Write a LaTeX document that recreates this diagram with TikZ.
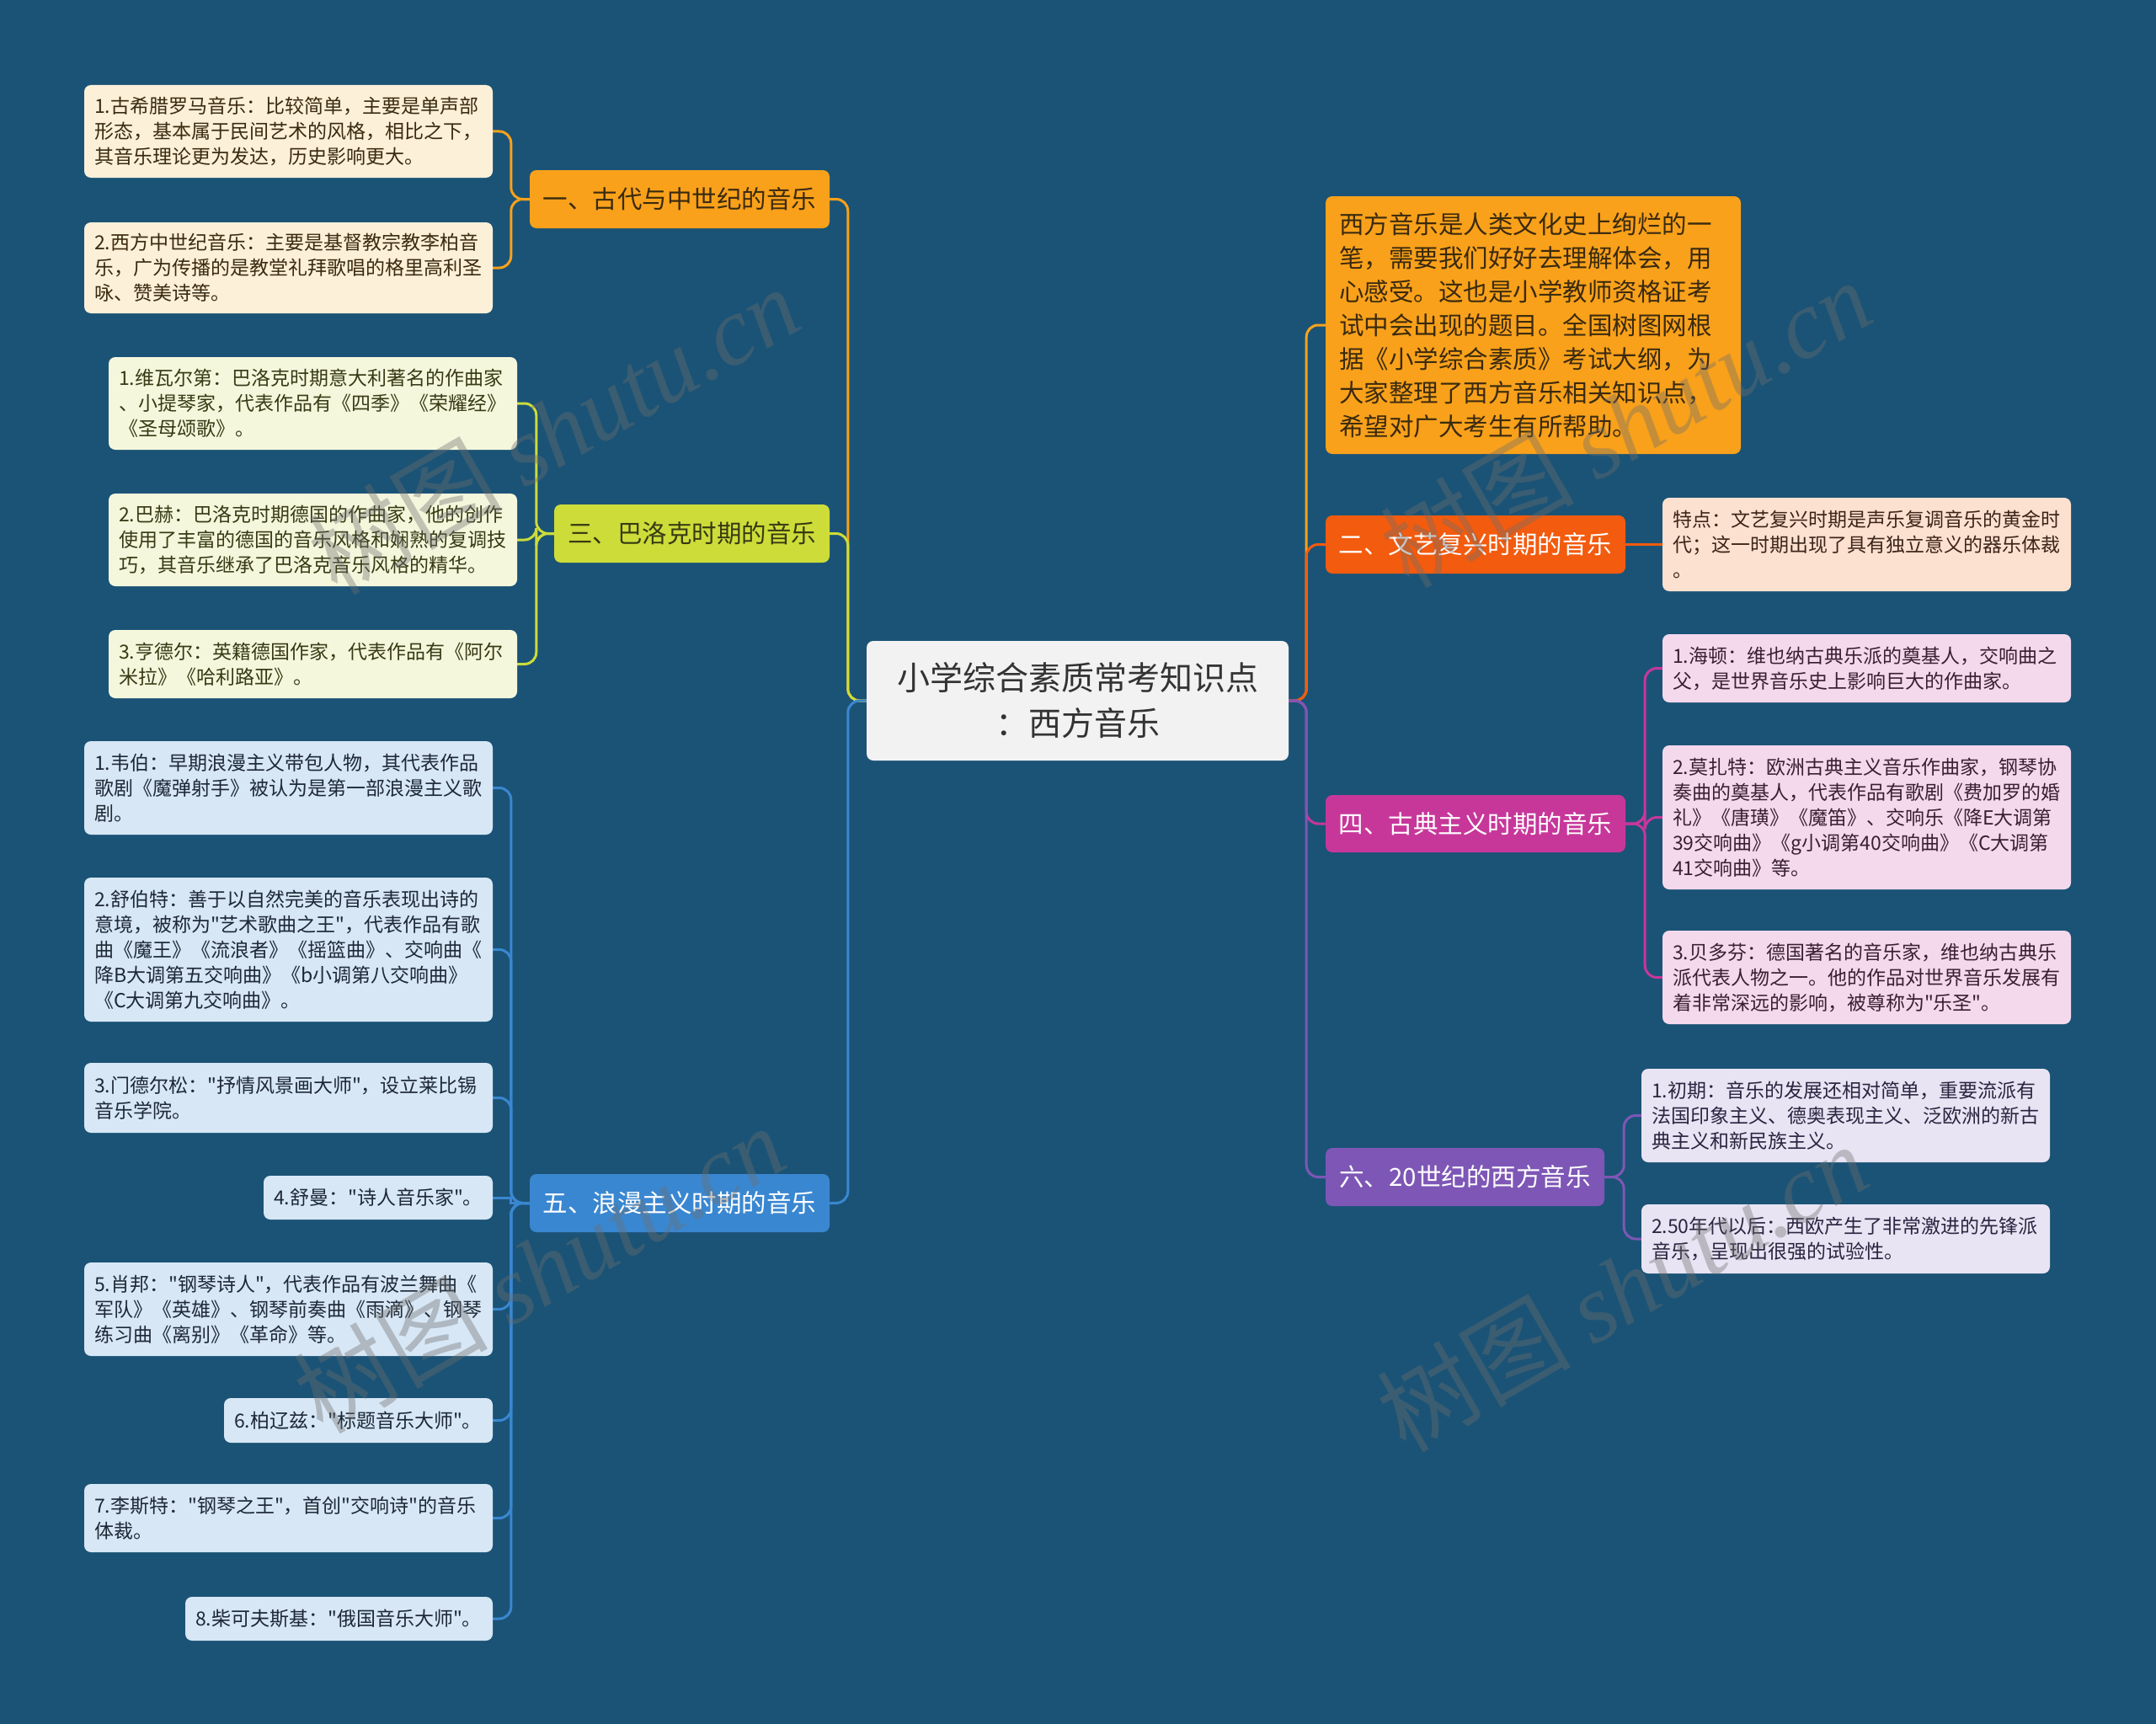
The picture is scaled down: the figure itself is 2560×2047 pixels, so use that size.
\documentclass[tikz,border=0pt]{standalone}
\usepackage{fontspec}
\usetikzlibrary{backgrounds}
\setmainfont{Noto Sans CJK SC}[Ligatures=TeXOff]
\newfontfamily\wmserif{Liberation Serif}
\definecolor{bgc}{RGB}{27,83,118}
\definecolor{cAmber}{RGB}{249,161,27}
\definecolor{cLime}{RGB}{205,220,57}
\definecolor{cBlue}{RGB}{58,135,209}
\definecolor{cRed}{RGB}{243,91,14}
\definecolor{cMag}{RGB}{199,55,154}
\definecolor{cPurp}{RGB}{126,87,182}
\definecolor{fA}{RGB}{252,240,217}
\definecolor{fL}{RGB}{245,247,221}
\definecolor{fB}{RGB}{215,231,245}
\definecolor{fR}{RGB}{253,225,208}
\definecolor{fM}{RGB}{244,217,236}
\definecolor{fP}{RGB}{233,228,243}
\definecolor{rootf}{RGB}{242,242,242}
\definecolor{tdark}{RGB}{51,51,51}
\definecolor{tA}{RGB}{58,42,15}
\definecolor{tL}{RGB}{55,58,20}
\definecolor{tB}{RGB}{30,40,54}
\definecolor{tR}{RGB}{60,36,24}
\definecolor{tM}{RGB}{58,31,51}
\definecolor{tP}{RGB}{42,36,64}
\definecolor{wmc}{RGB}{110,110,110}
\tikzset{
  box/.style={rounded corners=8pt, inner ysep=0pt, anchor=center},
  leafbox/.style={box, inner xsep=12pt, align=left, font=\fontsize{23}{30}\selectfont},
  leafwide/.style={leafbox, text width=461pt, minimum width=485pt},
  branchbox/.style={box, inner xsep=8pt, align=center, font=\fontsize{29.5}{36}\selectfont},
  conn/.style={line width=3pt, rounded corners=14pt},
  wm/.style={rotate=30, text=wmc, text opacity=0.38, font=\fontsize{115}{115}\selectfont}
}
\begin{document}
\begin{tikzpicture}[x=1pt,y=-1pt]
\useasboundingbox (0,0) rectangle (2560,2047);

% root
\node[box, fill=rootf, text=tdark, minimum width=501pt, minimum height=142pt, align=center,
      font=\fontsize{39}{54}\selectfont] (root) at (1279.5,832) {小学综合素质常考知识点\\：西方音乐};

% branches
\node[branchbox, fill=cAmber, text=tA, minimum width=356pt, minimum height=69pt] (b1) at (807,236.5) {一、古代与中世纪的音乐};
\node[branchbox, fill=cLime, text=tL, minimum width=327pt, minimum height=69pt] (b3) at (821.5,633.5) {三、巴洛克时期的音乐};
\node[branchbox, fill=cBlue, text=white, minimum width=356pt, minimum height=69pt] (b5) at (807,1428.5) {五、浪漫主义时期的音乐};
\node[box, fill=cAmber, text=tA, minimum width=493pt, minimum height=306pt, inner xsep=16pt,
      text width=461pt, align=left, font=\fontsize{29.5}{40}\selectfont] (intro) at (1820.5,386)
  {西方音乐是人类文化史上绚烂的一\\笔，需要我们好好去理解体会，用\\心感受。这也是小学教师资格证考\\试中会出现的题目。全国树图网根\\据《小学综合素质》考试大纲，为\\大家整理了西方音乐相关知识点，\\希望对广大考生有所帮助。};
\node[branchbox, fill=cRed, text=white, minimum width=356pt, minimum height=69pt] (b2) at (1752,646.5) {二、文艺复兴时期的音乐};
\node[branchbox, fill=cMag, text=white, minimum width=356pt, minimum height=68pt] (b4) at (1752,978) {四、古典主义时期的音乐};
\node[branchbox, fill=cPurp, text=white, minimum width=331pt, minimum height=69pt] (b6) at (1739.5,1397.5) {六、20世纪的西方音乐};

% leaves branch 1
\node[leafwide, fill=fA, text=tA, minimum height=110pt] (l11) at (342.5,156) {1.古希腊罗马音乐：比较简单，主要是单声部\\形态，基本属于民间艺术的风格，相比之下，\\其音乐理论更为发达，历史影响更大。};
\node[leafwide, fill=fA, text=tA, minimum height=108pt] (l12) at (342.5,318) {2.西方中世纪音乐：主要是基督教宗教李柏音\\乐，广为传播的是教堂礼拜歌唱的格里高利圣\\咏、赞美诗等。};

% leaves branch 3
\node[leafwide, fill=fL, text=tL, minimum height=110pt] (l31) at (371.5,479) {1.维瓦尔第：巴洛克时期意大利著名的作曲家\\、小提琴家，代表作品有《四季》《荣耀经》\\《圣母颂歌》。};
\node[leafwide, fill=fL, text=tL, minimum height=110pt] (l32) at (371.5,641) {2.巴赫：巴洛克时期德国的作曲家，他的创作\\使用了丰富的德国的音乐风格和娴熟的复调技\\巧，其音乐继承了巴洛克音乐风格的精华。};
\node[leafwide, fill=fL, text=tL, minimum height=81pt] (l33) at (371.5,788.5) {3.亨德尔：英籍德国作家，代表作品有《阿尔\\米拉》《哈利路亚》。};

% leaves branch 5
\node[leafwide, fill=fB, text=tB, minimum height=111pt] (l51) at (342.5,935.5) {1.韦伯：早期浪漫主义带包人物，其代表作品\\歌剧《魔弹射手》被认为是第一部浪漫主义歌\\剧。};
\node[leafwide, fill=fB, text=tB, minimum height=171pt] (l52) at (342.5,1127.5) {2.舒伯特：善于以自然完美的音乐表现出诗的\\意境，被称为"艺术歌曲之王"，代表作品有歌\\曲《魔王》《流浪者》《摇篮曲》、交响曲《\\降B大调第五交响曲》《b小调第八交响曲》\\《C大调第九交响曲》。};
\node[leafwide, fill=fB, text=tB, minimum height=83pt] (l53) at (342.5,1303.5) {3.门德尔松："抒情风景画大师"，设立莱比锡\\音乐学院。};
\node[leafbox, fill=fB, text=tB, minimum width=272pt, text width=248pt, minimum height=52pt] (l54) at (449,1422) {4.舒曼："诗人音乐家"。};
\node[leafwide, fill=fB, text=tB, minimum height=111pt] (l55) at (342.5,1554.5) {5.肖邦："钢琴诗人"，代表作品有波兰舞曲《\\军队》《英雄》、钢琴前奏曲《雨滴》、钢琴\\练习曲《离别》《革命》等。};
\node[leafbox, fill=fB, text=tB, minimum width=319pt, text width=295pt, minimum height=53pt] (l56) at (425.5,1686.5) {6.柏辽兹："标题音乐大师"。};
\node[leafwide, fill=fB, text=tB, minimum height=81pt] (l57) at (342.5,1802.5) {7.李斯特："钢琴之王"，首创"交响诗"的音乐\\体裁。};
\node[leafbox, fill=fB, text=tB, minimum width=365pt, text width=341pt, minimum height=52pt] (l58) at (402.5,1922) {8.柴可夫斯基："俄国音乐大师"。};

% right leaves
\node[leafwide, fill=fR, text=tR, minimum height=111pt] (l2) at (2216.5,646.5) {特点：文艺复兴时期是声乐复调音乐的黄金时\\代；这一时期出现了具有独立意义的器乐体裁\\。};
\node[leafwide, fill=fM, text=tM, minimum height=81pt] (l41) at (2216.5,793.5) {1.海顿：维也纳古典乐派的奠基人，交响曲之\\父，是世界音乐史上影响巨大的作曲家。};
\node[leafwide, fill=fM, text=tM, minimum height=171pt] (l42) at (2216.5,970.5) {2.莫扎特：欧洲古典主义音乐作曲家，钢琴协\\奏曲的奠基人，代表作品有歌剧《费加罗的婚\\礼》《唐璜》《魔笛》、交响乐《降E大调第\\39交响曲》《g小调第40交响曲》《C大调第\\41交响曲》等。};
\node[leafwide, fill=fM, text=tM, minimum height=111pt] (l43) at (2216.5,1160.5) {3.贝多芬：德国著名的音乐家，维也纳古典乐\\派代表人物之一。他的作品对世界音乐发展有\\着非常深远的影响，被尊称为"乐圣"。};
\node[leafwide, fill=fP, text=tP, minimum height=111pt] (l61) at (2191.5,1324.5) {1.初期：音乐的发展还相对简单，重要流派有\\法国印象主义、德奥表现主义、泛欧洲的新古\\典主义和新民族主义。};
\node[leafwide, fill=fP, text=tP, minimum height=82pt] (l62) at (2191.5,1471) {2.50年代以后：西欧产生了非常激进的先锋派\\音乐，呈现出很强的试验性。};

\begin{pgfonlayer}{background}
\fill[bgc] (0,0) rectangle (2560,2047);
% root -> left branches
\draw[conn, cAmber] (root.west) -- ++(-22,0) |- (b1.east);
\draw[conn, cLime] (root.west) -- ++(-22,0) |- (b3.east);
\draw[conn, cBlue] (root.west) -- ++(-22,0) |- (b5.east);
% root -> right
\draw[conn, cAmber] (root.east) -- ++(21,0) |- (intro.west);
\draw[conn, cRed] (root.east) -- ++(21,0) |- (b2.west);
\draw[conn, cMag] (root.east) -- ++(21,0) |- (b4.west);
\draw[conn, cPurp] (root.east) -- ++(21,0) |- (b6.west);
% branch 1
\draw[conn, cAmber] (b1.west) -- ++(-22,0) |- (l11.east);
\draw[conn, cAmber] (b1.west) -- ++(-22,0) |- (l12.east);
% branch 3
\draw[conn, cLime] (b3.west) -- ++(-21,0) |- (l31.east);
\draw[conn, cLime] (b3.west) -- ++(-21,0) |- (l32.east);
\draw[conn, cLime] (b3.west) -- ++(-21,0) |- (l33.east);
% branch 5
\draw[conn, cBlue] (b5.west) -- ++(-22,0) |- (l51.east);
\draw[conn, cBlue] (b5.west) -- ++(-22,0) |- (l52.east);
\draw[conn, cBlue] (b5.west) -- ++(-22,0) |- (l53.east);
\draw[line width=3pt, cBlue] (b5.west) -- ++(-22,0) |- (l54.east);
\draw[conn, cBlue] (b5.west) -- ++(-22,0) |- (l55.east);
\draw[conn, cBlue] (b5.west) -- ++(-22,0) |- (l56.east);
\draw[conn, cBlue] (b5.west) -- ++(-22,0) |- (l57.east);
\draw[conn, cBlue] (b5.west) -- ++(-22,0) |- (l58.east);
% branch 2
\draw[conn, cRed] (b2.east) -- (l2.west);
% branch 4
\draw[conn, cMag] (b4.east) -- ++(23,0) |- (l41.west);
\draw[conn, cMag] (b4.east) -- ++(23,0) |- (l42.west);
\draw[conn, cMag] (b4.east) -- ++(23,0) |- (l43.west);
% branch 6
\draw[conn, cPurp] (b6.east) -- ++(23,0) |- (l61.west);
\draw[conn, cPurp] (b6.east) -- ++(23,0) |- (l62.west);
\end{pgfonlayer}

% watermarks
\node[wm] (wm1) at (657,510) {树图 {\wmserif\itshape shutu.cn}};
\node[wm] (wm2) at (1930,502) {树图 {\wmserif\itshape shutu.cn}};
\node[wm] (wm3) at (640,1506) {树图 {\wmserif\itshape shutu.cn}};
\node[wm] (wm4) at (1926,1528) {树图 {\wmserif\itshape shutu.cn}};
\end{tikzpicture}
\end{document}
